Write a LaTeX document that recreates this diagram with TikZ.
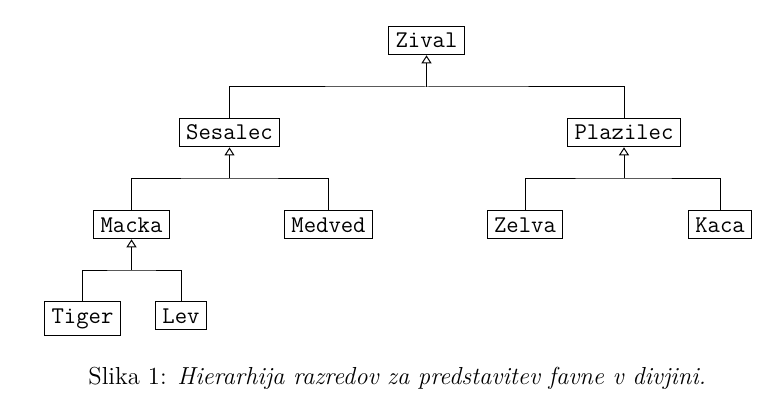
\documentclass[tikz,border=0pt]{standalone}
\usetikzlibrary{arrows.meta}
\begin{document}
\begin{tikzpicture}[x=0.5pt,y=-0.5pt,
  cls/.style={draw, line width=0.5pt, font=\large\ttfamily, inner sep=3.333pt, anchor=base},
  conn/.style={line width=0.5pt},
  inh/.style={line width=0.5pt, -{Triangle[open, length=4pt, width=5pt]}}]
\useasboundingbox (0,0) rectangle (775,401);
\node[cls] (zival) at (426.5,48) {Zival};
\node[cls] (sesalec) at (229.5,140) {Sesalec};
\node[cls] (plazilec) at (624,140) {Plazilec};
\node[cls] (macka) at (131.5,232) {Macka};
\node[cls] (medved) at (328.5,232) {Medved};
\node[cls] (zelva) at (525,232) {Zelva};
\node[cls] (kaca) at (720,232) {Kaca};
\node[cls] (tiger) at (82.5,323) {Tiger};
\node[cls] (lev) at (181,323) {Lev};
\coordinate (j1) at (426.5,87);
\coordinate (j2) at (229.5,178);
\coordinate (j3) at (624,178);
\coordinate (j4) at (131.5,270);
\draw[conn] (sesalec.north) |- (j1) -| (plazilec.north);
\draw[inh] (j1) -- (zival.south);
\draw[conn] (macka.north) |- (j2) -| (medved.north);
\draw[inh] (j2) -- (sesalec.south);
\draw[conn] (zelva.north) |- (j3) -| (kaca.north);
\draw[inh] (j3) -- (plazilec.south);
\draw[conn] (tiger.north) |- (j4) -| (lev.north);
\draw[inh] (j4) -- (macka.south);
\node[font=\fontsize{12.3}{14}\selectfont, anchor=base west, inner sep=0pt] (cap) at (88,384) {Slika 1: \textit{Hierarhija razredov za predstavitev favne v divjini.}};
\end{tikzpicture}
\end{document}
